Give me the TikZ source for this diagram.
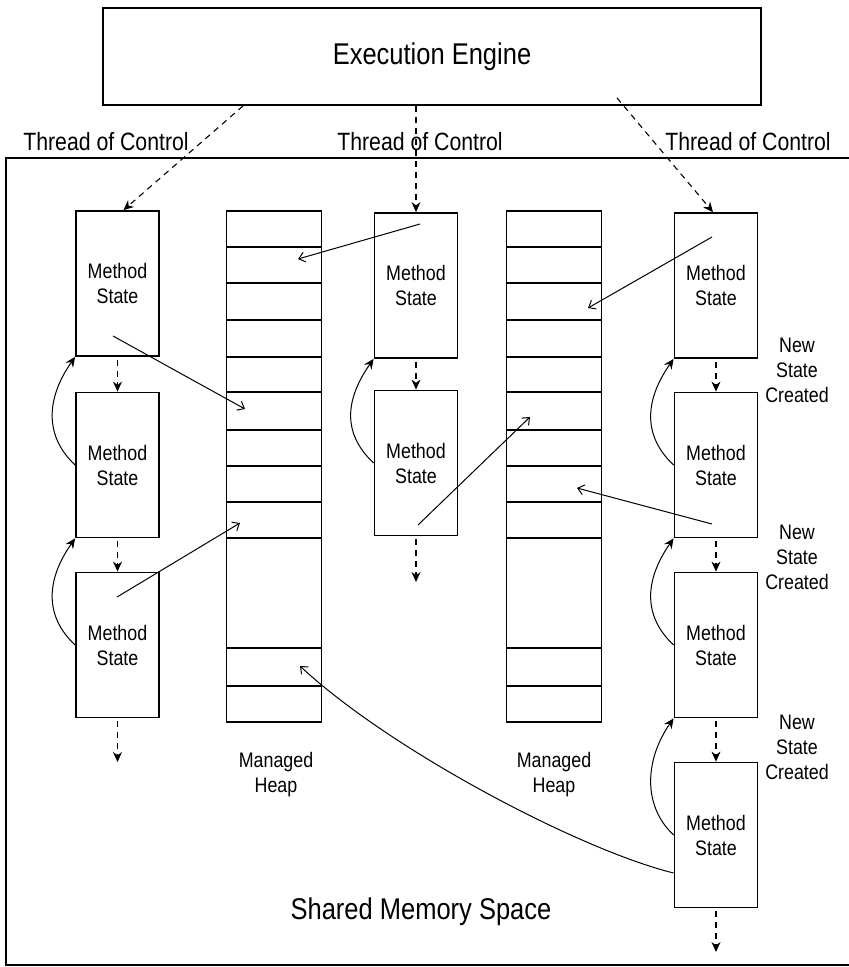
\documentclass[tikz,border=0pt]{standalone}
\usepackage{fontspec}
\setmainfont{Liberation Sans}[FakeStretch=0.85]
\usetikzlibrary{arrows.meta}

\begin{document}
\begin{tikzpicture}[x=1pt,y=-1pt,
    msbox/.style={draw,line width=1.8pt,minimum width=83pt,minimum height=145pt,inner sep=0pt,align=center,font=\fontsize{21}{25}\selectfont},
    heapbox/.style={draw,line width=1.8pt,minimum width=95pt,minimum height=511pt,inner sep=0pt},
    ctrl/.style={line width=1.1pt,dash pattern=on 6pt off 5pt,-{Stealth[length=10pt,width=9pt]}},
    ptr/.style={line width=1pt,-{Straight Barb[length=6pt,width=10pt]}},
    ret/.style={line width=1pt,-{Stealth[length=10pt,width=9pt]}},
    lbl/.style={align=center,font=\fontsize{21}{25}\selectfont}]
    \fill[white] (0,0) rectangle (849,967); \useasboundingbox (0,0) rectangle (849,967);

    % engine and the shared space
    \node[draw,line width=1.8pt,minimum width=658pt,minimum height=97pt,font=\fontsize{30}{36}\selectfont] (engine) at (432,56.5) {Execution Engine};
    \draw[line width=1.8pt] (852,158) -- (6,158) -- (6,965) -- (852,965);
    \node[font=\fontsize{25}{30}\selectfont] (tcl) at (106,142) {Thread of Control}; \node[font=\fontsize{25}{30}\selectfont] (tcm) at (420,142) {Thread of Control}; \node[font=\fontsize{25}{30}\selectfont] (tcr) at (748,142) {Thread of Control};
    \node[font=\fontsize{30}{36}\selectfont] (shared) at (421,912) {Shared Memory Space};

    % method states
    \node[msbox] (l1) at (117.5,283.5) {Method\\State}; \node[msbox] (l2) at (117.5,465) {Method\\State}; \node[msbox] (l3) at (117.5,645) {Method\\State};
    \node[msbox] (m1) at (416,285.5) {Method\\State}; \node[msbox] (m2) at (416,463) {Method\\State};
    \node[msbox] (r1) at (716,285.5) {Method\\State}; \node[msbox] (r2) at (716,465) {Method\\State}; \node[msbox] (r3) at (716,645) {Method\\State}; \node[msbox] (r4) at (716,835) {Method\\State};
    \node[lbl] (nsc1) at (797,370) {New\\State\\Created}; \node[lbl] (nsc2) at (797,557) {New\\State\\Created}; \node[lbl] (nsc3) at (797,747) {New\\State\\Created};

    % heaps
    \node[heapbox] (heapA) at (274,466.5) {}; \node[heapbox] (heapB) at (554,466.5) {};
    \draw[line width=1.8pt] (226.5,247) -- (321.5,247); \draw[line width=1.8pt] (226.5,283) -- (321.5,283); \draw[line width=1.8pt] (226.5,320) -- (321.5,320); \draw[line width=1.8pt] (226.5,357) -- (321.5,357); \draw[line width=1.8pt] (226.5,392) -- (321.5,392); \draw[line width=1.8pt] (226.5,430) -- (321.5,430); \draw[line width=1.8pt] (226.5,466) -- (321.5,466); \draw[line width=1.8pt] (226.5,502) -- (321.5,502); \draw[line width=1.8pt] (226.5,538) -- (321.5,538); \draw[line width=1.8pt] (226.5,648) -- (321.5,648); \draw[line width=1.8pt] (226.5,686) -- (321.5,686);
    \draw[line width=1.8pt] (506.5,247) -- (601.5,247); \draw[line width=1.8pt] (506.5,283) -- (601.5,283); \draw[line width=1.8pt] (506.5,320) -- (601.5,320); \draw[line width=1.8pt] (506.5,357) -- (601.5,357); \draw[line width=1.8pt] (506.5,392) -- (601.5,392); \draw[line width=1.8pt] (506.5,430) -- (601.5,430); \draw[line width=1.8pt] (506.5,466) -- (601.5,466); \draw[line width=1.8pt] (506.5,502) -- (601.5,502); \draw[line width=1.8pt] (506.5,538) -- (601.5,538); \draw[line width=1.8pt] (506.5,648) -- (601.5,648); \draw[line width=1.8pt] (506.5,686) -- (601.5,686);
    \node[lbl] (mhA) at (276,775) {Managed\\Heap}; \node[lbl] (mhB) at (554,775) {Managed\\Heap};

    % threads of control
    \draw[ctrl] ([xshift=141pt]engine.south west) -- ([xshift=6pt]l1.north);
    \draw[ctrl] ([xshift=-16pt]engine.south) -- (m1.north);
    \draw[ctrl] ([xshift=185pt,yshift=8pt]engine.south) -- ([xshift=-3pt]r1.north);
    \coordinate (l3end) at (117.5,762); \coordinate (m2end) at (416,582); \coordinate (r4end) at (716,952);
    \draw[ctrl,shorten <=3pt] (l1.south) -- (l2.north); \draw[ctrl,shorten <=3pt] (l2.south) -- (l3.north); \draw[ctrl,shorten <=3pt] (l3.south) -- (l3end);
    \draw[ctrl,shorten <=3pt] (m1.south) -- (m2.north); \draw[ctrl,shorten <=3pt] (m2.south) -- (m2end);
    \draw[ctrl,shorten <=3pt] (r1.south) -- (r2.north); \draw[ctrl,shorten <=3pt] (r2.south) -- (r3.north); \draw[ctrl,shorten <=3pt] (r3.south) -- (r4.north); \draw[ctrl,shorten <=3pt] (r4.south) -- (r4end);

    % returns to the calling state
    \draw[ret] (l2.west) .. controls +(-32,-30) and +(-28,40) .. (l1.south west); \draw[ret] (l3.west) .. controls +(-32,-30) and +(-28,40) .. (l2.south west);
    \draw[ret] (m2.west) .. controls +(-32,-30) and +(-28,40) .. (m1.south west);
    \draw[ret] (r2.west) .. controls +(-32,-30) and +(-28,40) .. (r1.south west); \draw[ret] (r3.west) .. controls +(-32,-30) and +(-28,40) .. (r2.south west); \draw[ret] (r4.west) .. controls +(-32,-30) and +(-28,40) .. (r3.south west);

    % references into the heaps
    \coordinate (src1) at (113,336); \coordinate (dst1) at (245,409);
    \coordinate (src2) at (420,224); \coordinate (dst2) at (298,259);
    \coordinate (src3) at (117,597); \coordinate (dst3) at (240,523);
    \coordinate (src4) at (418,525); \coordinate (dst4) at (530,417);
    \coordinate (src5) at (712,237); \coordinate (dst5) at (588,308);
    \coordinate (src6) at (712,524); \coordinate (dst6) at (577,488);
    \coordinate (dst7) at (300,666);
    \draw[ptr] (src1) -- (dst1); \draw[ptr] (src2) -- (dst2); \draw[ptr] (src3) -- (dst3); \draw[ptr] (src4) -- (dst4); \draw[ptr] (src5) -- (dst5); \draw[ptr] (src6) -- (dst6);
    \draw[ptr] ([yshift=-38pt]r4.west) .. controls (580,850) and (390,750) .. (dst7);
\end{tikzpicture}
\end{document}
